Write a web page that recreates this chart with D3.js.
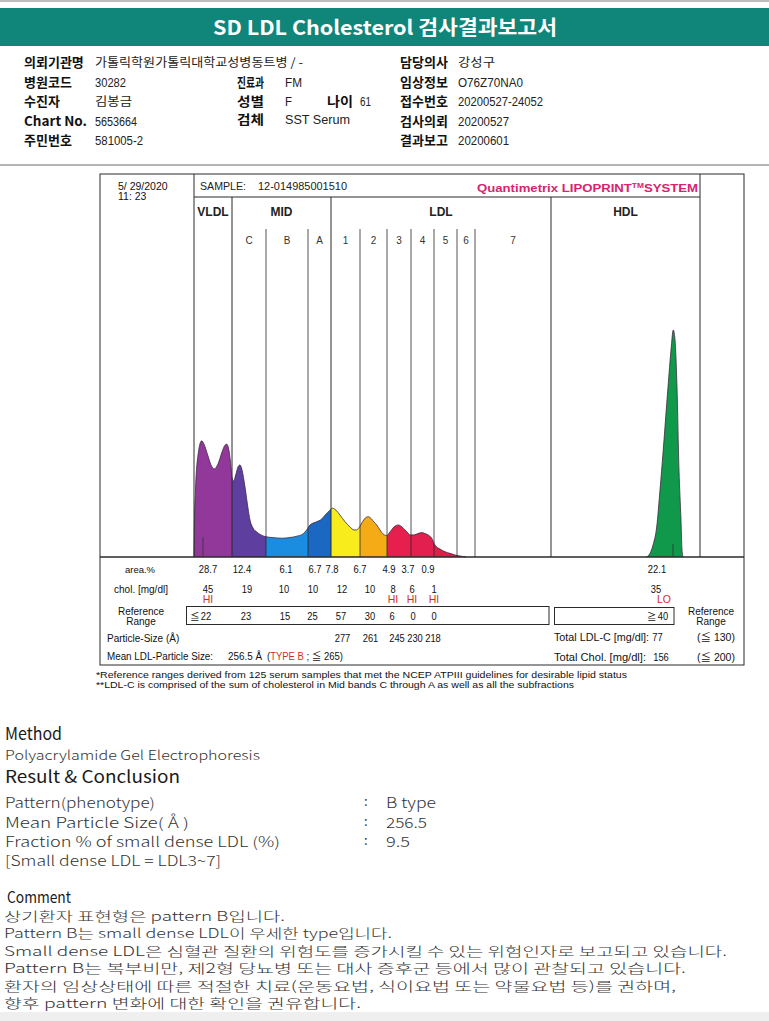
<!DOCTYPE html>
<html>
<head>
<meta charset="utf-8">
<script src="https://cdn.jsdelivr.net/npm/d3@7"></script>
<style>
  body { margin: 0; background: #fff; }
  svg { display: block; }
</style>
</head>
<body>
<div id="chart"></div>
<script>
// ---- data ----
const bandNames = ["VLDL", "C", "B", "A", "1", "2", "3", "4", "5", "6", "7", "HDL"];
// band edges along the gel, mm from the VLDL start
const bandEdges = [0, 3.8, 7.2, 11.4, 13.7, 16.6, 19.3, 21.7, 24.0, 26.3, 28.1, 35.7, 50.6];
const bandColors = ["#93389b", "#5e3e9f", "#1b8de0", "#1a68c2", "#f8ec1c", "#f5ab16",
                    "#e71f4e", "#e21f4f", "#dd1f47", "#d81f40", "#d81f40", "#10994a"];

// densitometer scan (mm, relative intensity)
const scanMm = [0.00, 0.03, 0.15, 0.40, 0.77, 1.00, 1.40, 1.70, 2.03, 2.40, 2.80, 3.10, 3.27, 3.45,
  3.65, 3.80, 3.95, 4.20, 4.40, 4.60, 4.80, 5.10, 5.40, 5.60, 5.90, 6.27, 6.70, 7.10, 7.80, 8.77,
  9.60, 10.40, 10.90, 11.27, 11.60, 12.20, 12.77, 13.20, 13.50, 13.83, 14.20, 14.60, 15.10, 15.60,
  16.00, 16.27, 16.50, 16.90, 17.20, 17.43, 17.70, 18.00, 18.27, 18.60, 18.90, 19.27, 19.60, 20.00,
  20.43, 20.80, 21.10, 21.40, 21.60, 22.00, 22.40, 22.77, 23.10, 23.40, 23.77, 24.10, 24.60, 25.10,
  25.60, 26.10, 26.60, 27.20];
const scanInt = [0, 8.2, 20.3, 30.9, 35.2, 34.2, 30.6, 27.9, 26.7, 28.2, 31.8, 33.9, 34.2, 33.0,
  28.8, 24.2, 23.0, 25.2, 27.3, 27.9, 26.4, 21.2, 14.8, 11.2, 8.8, 7.6, 6.7, 6.2, 5.9, 5.7,
  5.9, 6.4, 7.0, 8.2, 9.7, 10.6, 11.5, 13.0, 13.9, 14.8, 14.2, 12.7, 10.7, 9.1,
  8.2, 8.2, 8.9, 10.9, 12.0, 12.2, 11.7, 10.6, 9.7, 8.2, 7.0, 6.5, 7.6, 9.1,
  9.7, 9.1, 8.2, 7.3, 6.7, 6.7, 7.1, 7.4, 7.1, 6.7, 5.7, 3.6, 2.4, 1.6,
  1.1, 0.6, 0.3, 0];
const hdlMm  = [45.20, 45.50, 45.90, 46.27, 46.60, 46.90, 47.40, 47.70, 47.93, 48.10, 48.30, 48.50, 48.70, 48.80, 48.90];
const hdlInt = [0, 0.6, 3.6, 9.1, 20.3, 31.5, 51.5, 62.7, 68.8, 65.8, 51.5, 26.4, 11.2, 2.1, 0];

// table values, bands VLDL..LDL5 then HDL
const areaPct  = [28.7, 12.4, 6.1, 6.7, 7.8, 6.7, 4.9, 3.7, 0.9];
const cholMg   = [45, 19, 10, 10, 12, 10, 8, 6, 1];
const cholFlag = ["HI", "", "", "", "", "", "HI", "HI", "HI"];
const refMax   = [22, 23, 15, 25, 57, 30, 6, 0, 0];
const particleSize = [277, 261, 245, 230, 218]; // LDL1..LDL5
const hdlArea = 22.1, hdlChol = 35, hdlFlag = "LO", hdlRefMin = 40;
const totalLdlC = 77, totalLdlRef = 130, totalChol = 156, totalCholRef = 200;
const meanSize = 256.5, typeCut = 265;

// ---- layout ----
const W = 769, H = 1021;
const SANS = "'Liberation Sans', Arial, 'Noto Sans CJK KR', sans-serif";
const KR = "'Noto Sans CJK KR', 'Noto Sans', sans-serif";
const NARROW = "'Liberation Sans Narrow', 'Liberation Sans', 'Noto Sans CJK KR', sans-serif";

const svg = d3.select("#chart").append("svg").attr("width", W).attr("height", H);

function T(g, x, y, s, o = {}) {
  const t = g.append("text").attr("x", x).attr("y", y).text(s)
    .attr("font-size", o.size || 12)
    .attr("font-family", o.family || SANS)
    .attr("font-weight", o.weight || "normal")
    .attr("fill", o.fill || "#111")
    .attr("text-anchor", o.anchor || "start");
  if (o.w) t.attr("textLength", o.w).attr("lengthAdjust", "spacingAndGlyphs");
  return t;
}

// header
svg.append("rect").attr("x", 0).attr("y", 0).attr("width", W).attr("height", 2).attr("fill", "#bdbdbd");
svg.append("rect").attr("x", 0).attr("y", 8).attr("width", W).attr("height", 38).attr("fill", "#10857a");
T(svg, 385, 35, "SD LDL Cholesterol 검사결과보고서", { size: 20, weight: "bold", fill: "#fff", anchor: "middle", family: KR, w: 344 });

const infoCols = [24, 95, 237, 285, 400, 458];
const infoRows = [
  [["의뢰기관명", "가톨릭학원가톨릭대학교성병동트병 / -", 208], null, ["담당의사", "강성구", 37]],
  [["병원코드", "30282", 31], ["진료과", "FM", 17], ["임상정보", "O76Z70NA0", 65]],
  [["수진자", "김봉금", 37], ["성별", "F", 7], ["접수번호", "20200527-24052", 85]],
  [["Chart No.", "5653664", 42], ["검체", "SST Serum", 65], ["검사의뢰", "20200527", 51]],
  [["주민번호", "581005-2", 48], null, ["결과보고", "20200601", 51]]
];
const infoY = [67, 87, 106, 126, 145];
infoRows.forEach((row, r) => {
  row.forEach((cell, c) => {
    if (!cell) return;
    const lx = infoCols[c * 2], vx = infoCols[c * 2 + 1];
    const lw = cell[0] === "Chart No." ? 63 : (c === 1 ? 27 : null);
    const dy = cell[0] === "검체" ? 2 : 0;
    T(svg, lx, infoY[r] - dy, cell[0], { size: 13, weight: "bold", family: KR, w: lw });
    T(svg, vx, infoY[r] - dy, cell[1], { size: 12, family: /[가-힣]/.test(cell[1]) ? KR : NARROW, fill: "#222", w: cell[2] });
  });
});
T(svg, 327, 106, "나이", { size: 13, weight: "bold", family: KR, w: 26 });
T(svg, 360, 106, "61", { size: 12, family: NARROW, fill: "#222", w: 11 });

svg.append("rect").attr("x", 0).attr("y", 164).attr("width", W).attr("height", 2).attr("fill", "#b4b4b4");

// ---- electrophoresis chart ----
const box = { left: 100, right: 744, top: 174, bottom: 665 };
const x = d3.scaleLinear().domain([0, 50.6]).range([194, 700]);
const y = d3.scaleLinear().domain([0, 100]).range([557, 227]);

const g = svg.append("g");
const scan = scanMm.map((m, i) => [m, scanInt[i]]);
const hdl = hdlMm.map((m, i) => [m, hdlInt[i]]);
const area = d3.area().x(d => x(d[0])).y0(y(0)).y1(d => y(d[1])).curve(d3.curveMonotoneX);
const line = d3.line().x(d => x(d[0])).y(d => y(d[1])).curve(d3.curveMonotoneX);

const defs = svg.append("defs");
bandNames.forEach((b, i) => {
  defs.append("clipPath").attr("id", "band" + i).append("rect")
    .attr("x", x(bandEdges[i])).attr("y", 0)
    .attr("width", x(bandEdges[i + 1]) - x(bandEdges[i])).attr("height", H);
  [scan, hdl].forEach(curve => {
    g.append("path").attr("d", area(curve)).attr("fill", bandColors[i])
      .attr("clip-path", `url(#band${i})`);
  });
});
[scan, hdl].forEach(curve => {
  g.append("path").attr("d", line(curve)).attr("fill", "none")
    .attr("stroke", "#3b2b40").attr("stroke-width", 0.8);
});
// small peak markers on the baseline
[[0.9, 6], [47.9, 4]].forEach(mk => {
  g.append("line").attr("x1", x(mk[0])).attr("x2", x(mk[0]))
    .attr("y1", y(0)).attr("y2", y(mk[1])).attr("stroke", "#333").attr("stroke-width", 0.8);
});

// frame
const ink = "#2a2a2a";
g.append("rect").attr("x", box.left).attr("y", box.top)
  .attr("width", box.right - box.left).attr("height", box.bottom - box.top)
  .attr("fill", "none").attr("stroke", ink).attr("stroke-width", 1);
g.append("line").attr("x1", box.left).attr("x2", box.right).attr("y1", y(0)).attr("y2", y(0))
  .attr("stroke", ink).attr("stroke-width", 1.4);
g.append("line").attr("x1", x(0)).attr("x2", x(50.6)).attr("y1", 197).attr("y2", 197)
  .attr("stroke", ink).attr("stroke-width", 1);
const majorEdges = [1, 4, 11];
bandEdges.forEach((e, i) => {
  let top = 229;
  if (i === 0 || i === bandEdges.length - 1) top = box.top;
  else if (majorEdges.includes(i)) top = 197;
  g.append("line").attr("x1", x(e)).attr("x2", x(e)).attr("y1", top).attr("y2", y(0))
    .attr("stroke", ink).attr("stroke-width", top === 229 ? 0.8 : 1);
});

T(g, 118, 190, "5/ 29/2020", { size: 10.5 });
T(g, 118, 200, "11: 23", { size: 10.5 });
T(g, 200, 190, "SAMPLE:", { size: 11, w: 46, fill: "#222" });
T(g, 258, 190, "12-014985001510", { size: 10, w: 89, fill: "#222" });
const brand = T(g, 698, 192, "", { size: 11, weight: "bold", fill: "#d6246e", anchor: "end", w: 221 });
brand.append("tspan").text("Quantimetrix LIPOPRINT");
brand.append("tspan").attr("font-size", 7).attr("dy", -4).text("TM");
brand.append("tspan").attr("dy", 4).text("SYSTEM");

const groups = [["VLDL", 0, 1], ["MID", 1, 4], ["LDL", 4, 11], ["HDL", 11, 12]];
groups.forEach(gr => {
  const cx = (x(bandEdges[gr[1]]) + x(bandEdges[gr[2]])) / 2;
  T(g, cx, 216, gr[0], { size: 12, weight: "bold", anchor: "middle", fill: "#222" });
});
bandNames.slice(1, 11).forEach((b, k) => {
  const i = k + 1;
  const cx = (x(bandEdges[i]) + x(bandEdges[i + 1])) / 2;
  T(g, cx, 244, b, { size: 10, anchor: "middle", fill: "#333" });
});

// table under the scan
const areaX = [208, 242, 286, 315, 332, 360, 389, 408, 428];
const cholX = [208, 247, 284, 313, 342, 370, 393, 412, 434];
const refX  = [206, 246, 285, 312.5, 341, 370, 392, 413, 434];
const sizeX = [342.5, 370.5, 397, 415, 433];
const fs = 10.5, red = "#d2301f";
// printed digits are a little narrower than Arial's
const numWidth = s => s.split("").reduce((a, ch) => a + (ch === "." ? 2.7 : 5.2), 0);
const num = (g, cx, yy, v, o = {}) => {
  const s = String(v);
  return T(g, cx, yy, s, Object.assign({ size: fs, anchor: "middle", w: numWidth(s) }, o));
};

T(g, 140, 573, "area.%", { size: 9.5, anchor: "middle" });
areaPct.forEach((v, i) => num(g, areaX[i], 573, v.toFixed(1)));
num(g, 657, 573, hdlArea.toFixed(1));

T(g, 141, 593, "chol. [mg/dl]", { size: 10, anchor: "middle" });
cholMg.forEach((v, i) => {
  num(g, cholX[i], 593, v);
  if (cholFlag[i]) T(g, cholX[i], 603, cholFlag[i], { size: fs, anchor: "middle", fill: red });
});
num(g, 656, 593, hdlChol);
T(g, 664, 603, hdlFlag, { size: fs, anchor: "middle", fill: red });

T(g, 141, 615, "Reference", { size: 10, anchor: "middle" });
T(g, 141, 625, "Range", { size: 10, anchor: "middle" });
g.append("rect").attr("x", 186.5).attr("y", 606.5).attr("width", 362.5).attr("height", 18)
  .attr("fill", "none").attr("stroke", ink).attr("stroke-width", 1);
g.append("rect").attr("x", 554.5).attr("y", 607.5).attr("width", 119.5).attr("height", 17)
  .attr("fill", "none").attr("stroke", ink).attr("stroke-width", 1);
T(g, 190, 620, "≦", { size: 9.5 });
refMax.forEach((v, i) => num(g, refX[i], 620, v));
T(g, 647, 620, "≧", { size: 9.5 });
num(g, 663, 620, hdlRefMin);
T(g, 711, 615, "Reference", { size: 10, anchor: "middle" });
T(g, 711, 625, "Range", { size: 10, anchor: "middle" });

T(g, 107, 642, "Particle-Size (Å)", { size: 10 });
particleSize.forEach((v, i) => num(g, sizeX[i], 642, v));
T(g, 554, 641, "Total LDL-C [mg/dl]:", { size: 10, w: 95 });
num(g, 657.5, 641, totalLdlC);
T(g, 716, 641, `(≦ ${totalLdlRef})`, { size: fs, anchor: "middle" });
T(g, 554, 661, "Total Chol. [mg/dl]:", { size: 10, w: 92 });
num(g, 661, 661, totalChol);
T(g, 716, 661, `(≦ ${totalCholRef})`, { size: fs, anchor: "middle" });

T(g, 107, 660, "Mean LDL-Particle Size:", { size: 10, w: 106 });
T(g, 228, 660, meanSize + " Å", { size: fs, w: 34 });
const typ = T(g, 267, 660, "(", { size: fs, w: 76 });
typ.append("tspan").attr("fill", red).text("TYPE B");
typ.append("tspan").text(` ; ≦ ${typeCut})`);

T(svg, 96, 678, "*Reference ranges derived from 125 serum samples that met the NCEP ATPIII guidelines for desirable lipid status", { size: 9.5, w: 531 });
T(svg, 96, 688, "**LDL-C is comprised of the sum of cholesterol in Mid bands C through A as well as all the subfractions", { size: 9.5, w: 478 });

// ---- text report ----
const TXT = "#333";
T(svg, 5, 740, "Method", { size: 17, family: KR, fill: "#1a1a1a", w: 57 });
T(svg, 5, 760, "Polyacrylamide Gel Electrophoresis", { size: 13, family: KR, fill: TXT, weight: 300, w: 255 });
T(svg, 5, 783, "Result & Conclusion", { size: 17, family: KR, fill: "#1a1a1a", w: 175 });
const resultLines = [
  ["Pattern(phenotype)", 150, "B type", 50],
  ["Mean Particle Size( Å )", 184, "256.5", 41],
  ["Fraction % of small dense LDL (%)", 275, "9.5", 24]
];
resultLines.forEach((r, i) => {
  const yy = 808 + i * 19.5;
  T(svg, 5, yy, r[0], { size: 14, family: KR, fill: TXT, weight: 300, w: r[1] });
  T(svg, 364, yy - 2, ":", { size: 13, family: KR, fill: TXT });
  T(svg, 386, yy, r[2], { size: 14, family: KR, fill: TXT, weight: 300, w: r[3] });
});
T(svg, 5, 866, "[Small dense LDL = LDL3~7]", { size: 14, family: KR, fill: TXT, weight: 300, w: 216 });

T(svg, 7, 903, "Comment", { size: 16, family: KR, fill: "#1a1a1a", w: 64 });
const commentLines = [
  ["상기환자 표현형은 pattern B입니다.", 281],
  ["Pattern B는 small dense LDL이 우세한 type입니다.", 388],
  ["Small dense LDL은 심혈관 질환의 위험도를 증가시킬 수 있는 위험인자로 보고되고 있습니다.", 723],
  ["Pattern B는 복부비만, 제2형 당뇨병 또는 대사 증후군 등에서 많이 관찰되고 있습니다.", 682],
  ["환자의 임상상태에 따른 적절한 치료(운동요법, 식이요법 또는 약물요법 등)를 권하며,", 672],
  ["향후 pattern 변화에 대한 확인을 권유합니다.", 357]
];
commentLines.forEach((c, i) => {
  T(svg, 4, 921 + i * 17.4, c[0], { size: 13, family: KR, fill: TXT, weight: 300, w: c[1] });
});

svg.append("rect").attr("x", 0).attr("y", 1012).attr("width", W).attr("height", H - 1012).attr("fill", "#efefef");
</script>
</body>
</html>
